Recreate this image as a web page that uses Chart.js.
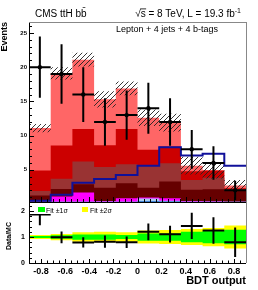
<!DOCTYPE html>
<html>
<head>
<meta charset="utf-8">
<script src="https://cdn.jsdelivr.net/npm/chart.js@4.4.1/dist/chart.umd.min.js"></script>
<style>
  html, body { margin: 0; padding: 0; background: #fff; }
  #wrap { position: relative; width: 258px; height: 290px; }
</style>
</head>
<body>
<div id="wrap"><canvas id="bdt" width="258" height="290"></canvas></div>
<script>
// BDT output binning (10 bins)
const binEdges = [-0.9, -0.72, -0.54, -0.36, -0.18, 0, 0.18, 0.36, 0.54, 0.72, 0.9];

// background components per bin, bottom of the stack first
const ewk       = [0.35, 0.35, 0.35, 0.35, 0.35, 0.45, 0.4, 0.35, 0.35, 0.35];
const ttv       = [0, 0, 0, 0, 0, 0.35, 0.1, 0, 0, 0];
const singleTop = [0, 0.75, 1.35, 0.1, 0.5, 0.15, 0.35, 0.1, 0.05, 0];
const ttbb      = [0.9, 1.1, 1.2, 1.95, 2.2, 1.45, 2.45, 1.65, 1.75, 1.65];
const ttb       = [0.65, 1.5, 3.3, 3.0, 2.75, 3.2, 2.65, 1.4, 1.7, 0.15];
const ttcc      = [3.0, 4.85, 4.75, 3.2, 5.15, 2.35, 2.45, 1.3, 1.05, 0.15];
const ttlf      = [6.2, 10.55, 10.15, 6.7, 5.95, 4.65, 3.5, 0.8, 0.05, 0.4];
const mcUnc     = [0.6, 0.9, 1.0, 1.2, 1.0, 1.2, 1.3, 1.3, 1.2, 0.8];

// ttH signal line, data counts
const signal     = [0.5, 1.35, 3.1, 3.65, 4.25, 5.6, 8.3, 7.1, 7.35, 5.6];
const dataCounts = [20, 19, 16, 12, 13, 14, 12, 8, 6, 2];

// ratio panel
const ratio = [1.87, 0.99, 0.79, 0.82, 0.8, 1.2, 1.11, 1.43, 1.25, 0.8];
const fit1s = [0.04, 0.07, 0.1, 0.1, 0.08, 0.14, 0.14, 0.2, 0.24, 0.28];
const fit2s = [0.08, 0.12, 0.18, 0.2, 0.18, 0.25, 0.27, 0.31, 0.35, 0.44];

// tick labels
const xTicks     = [-0.8, -0.6, -0.4, -0.2, 0, 0.2, 0.4, 0.6, 0.8];
const mainTicks  = [5, 10, 15, 20, 25];
const ratioTicks = [0, 1, 2];

const FONT = '"Liberation Sans", Arial, Helvetica, sans-serif';

// stepped histogram points: one per left bin edge + closing point
function steps(vals) {
    return binEdges.map((e, i) => ({ x: e, y: vals[Math.min(i, vals.length - 1)] }));
}

function hatchPattern() {
    const c = document.createElement('canvas');
    c.width = 5; c.height = 5;
    const g = c.getContext('2d');
    g.strokeStyle = '#222';
    g.lineWidth = 0.9;
    g.beginPath();
    g.moveTo(0, 5); g.lineTo(5, 0);
    g.moveTo(-1, 1); g.lineTo(1, -1);
    g.moveTo(4, 6); g.lineTo(6, 4);
    g.stroke();
    return g.createPattern(c, 'repeat');
}

const components = [
    { label: 'EWK',      vals: ewk,       color: '#3d7fd2' },
    { label: 'tt+V',     vals: ttv,       color: '#a9cdf2' },
    { label: 'single t', vals: singleTop, color: '#ff00ff' },
    { label: 'tt+bb',    vals: ttbb,      color: '#660000' },
    { label: 'tt+b',     vals: ttb,       color: '#993333' },
    { label: 'tt+cc',    vals: ttcc,      color: '#cc0000' },
    { label: 'tt+lf',    vals: ttlf,      color: '#ff6666' }
];

// cumulative stack; the tallest one is drawn first (highest order)
let running = binEdges.slice(1).map(() => 0);
const stackSets = components.map((c, k) => {
    running = running.map((v, i) => v + c.vals[i]);
    return {
        label: c.label,
        data: steps(running),
        yAxisID: 'y',
        stepped: true,
        fill: 'start',
        backgroundColor: c.color,
        borderColor: 'rgba(0,0,0,0)',
        borderWidth: 0,
        pointRadius: 0,
        order: 20 + k
    };
});
const total = running;

const lineBase = { stepped: true, pointRadius: 0, borderColor: 'rgba(0,0,0,0)', borderWidth: 0 };

const datasets = [
    ...stackSets,
    { ...lineBase, label: 'unc hi', yAxisID: 'y', data: steps(total.map((t, i) => t + mcUnc[i])),
      fill: '+1', backgroundColor: hatchPattern(), order: 5 },
    { ...lineBase, label: 'unc lo', yAxisID: 'y', data: steps(total.map((t, i) => t - mcUnc[i])),
      fill: false, order: 5 },
    { label: 'ttH', yAxisID: 'y', data: steps(signal), stepped: true, fill: false,
      borderColor: '#10109a', borderWidth: 2, pointRadius: 0, order: 4 },
    { ...lineBase, label: 'fit 2s hi', yAxisID: 'y2', data: steps(fit2s.map(e => 1 + e)),
      fill: '+1', backgroundColor: '#ffff00', order: 3 },
    { ...lineBase, label: 'fit 2s lo', yAxisID: 'y2', data: steps(fit2s.map(e => 1 - e)),
      fill: false, order: 3 },
    { ...lineBase, label: 'fit 1s hi', yAxisID: 'y2', data: steps(fit1s.map(e => 1 + e)),
      fill: '+1', backgroundColor: '#00ff00', order: 2 },
    { ...lineBase, label: 'fit 1s lo', yAxisID: 'y2', data: steps(fit1s.map(e => 1 - e)),
      fill: false, order: 2 }
];

// data points with poisson errors, ratio points
const errorBars = {
    id: 'errorBars',
    afterDatasetsDraw(chart) {
        const { ctx, scales: { x, y, y2 } } = chart;
        ctx.save();
        ctx.strokeStyle = '#000';
        ctx.fillStyle = '#000';
        ctx.lineWidth = 2;

        ctx.save();
        ctx.beginPath();
        ctx.rect(x.left, y.top, x.right - x.left, y.bottom - y.top);
        ctx.clip();
        dataCounts.forEach((n, i) => {
            const x0 = x.getPixelForValue(binEdges[i]);
            const x1 = x.getPixelForValue(binEdges[i + 1]);
            const xc = (x0 + x1) / 2;
            const err = Math.sqrt(n);
            const py = y.getPixelForValue(n);
            ctx.beginPath();
            ctx.moveTo(x0, py); ctx.lineTo(x1, py);
            ctx.moveTo(xc, y.getPixelForValue(n + err)); ctx.lineTo(xc, y.getPixelForValue(n - err));
            ctx.stroke();
            ctx.beginPath();
            ctx.arc(xc, py, 2.2, 0, Math.PI * 2);
            ctx.fill();
        });
        ctx.restore();

        ctx.save();
        ctx.beginPath();
        ctx.rect(x.left, y2.top, x.right - x.left, y2.bottom - y2.top);
        ctx.clip();
        ratio.forEach((r, i) => {
            const x0 = x.getPixelForValue(binEdges[i]);
            const x1 = x.getPixelForValue(binEdges[i + 1]);
            const xc = (x0 + x1) / 2;
            const err = r / Math.sqrt(dataCounts[i]);
            const py = y2.getPixelForValue(r);
            ctx.beginPath();
            ctx.moveTo(x0, py); ctx.lineTo(x1, py);
            ctx.moveTo(xc, y2.getPixelForValue(r + err)); ctx.lineTo(xc, y2.getPixelForValue(r - err));
            ctx.stroke();
        });
        ctx.restore();
        ctx.restore();
    }
};

// header texts, ratio legend, Data/MC title
const annotations = {
    id: 'annotations',
    afterDatasetsDraw(chart) {
        const { ctx, scales: { x, y2 } } = chart;
        ctx.save();
        // legend box (white, on top of the first ratio point)
        ctx.fillStyle = '#fff';
        ctx.fillRect(x.left + 1, y2.top + 1, 85, 11);
        ctx.fillStyle = '#00ff00';
        ctx.fillRect(38, 207, 7, 5);
        ctx.fillStyle = '#ffff00';
        ctx.fillRect(82, 207, 6, 5);
        ctx.fillStyle = '#000';
        ctx.font = `7px ${FONT}`;
        ctx.textBaseline = 'alphabetic';
        ctx.fillText('Fit \u00b11\u03c3', 46, 213);
        ctx.fillText('Fit \u00b12\u03c3', 90, 213);
        ctx.restore();
    },
    afterDraw(chart) {
        const { ctx } = chart;
        ctx.save();
        ctx.fillStyle = '#000';
        ctx.textBaseline = 'alphabetic';
        ctx.textAlign = 'left';

        ctx.font = `10px ${FONT}`;
        ctx.fillText('CMS ttH bb\u0304', 35, 17);

        const lumi = '\u221As = 8 TeV, L = 19.3 fb';
        const wMain = ctx.measureText(lumi).width;
        const wRoot = ctx.measureText('\u221A').width;
        const wS = ctx.measureText('s').width;
        ctx.font = `7px ${FONT}`;
        const wSup = ctx.measureText('-1').width;
        const x0 = 241 - wSup - wMain;
        ctx.fillText('-1', x0 + wMain, 12.5);
        ctx.font = `10px ${FONT}`;
        ctx.fillText(lumi, x0, 17);
        ctx.fillRect(x0 + wRoot - 0.5, 8.5, wS + 1, 0.8);

        ctx.font = `9px ${FONT}`;
        ctx.fillText('Lepton + 4 jets + 4 b-tags', 116, 31.5);

        ctx.translate(9.5, 236);
        ctx.rotate(-Math.PI / 2);
        ctx.font = `bold 7px ${FONT}`;
        ctx.textAlign = 'center';
        ctx.textBaseline = 'middle';
        ctx.fillText('Data/MC', 0, 0);
        ctx.restore();
    }
};

// ROOT style frame with inner major/minor ticks
const frame = {
    id: 'frame',
    afterDraw(chart) {
        const { ctx, chartArea: a, scales: { x, y, y2 } } = chart;
        const snap = v => Math.round(v) + 0.5;
        ctx.save();
        ctx.strokeStyle = '#000';
        ctx.lineWidth = 1;
        ctx.beginPath();
        for (let v = 1; v <= 26; v++) {
            const py = snap(y.getPixelForValue(v));
            ctx.moveTo(a.left, py); ctx.lineTo(a.left + (v % 5 === 0 ? 5 : 3), py);
        }
        for (let k = 1; k < 12; k++) {
            const py = snap(y2.getPixelForValue(k * 0.2));
            ctx.moveTo(a.left, py); ctx.lineTo(a.left + (k % 5 === 0 ? 5 : 3), py);
        }
        for (let k = -17; k <= 17; k++) {
            const px = snap(x.getPixelForValue(k * 0.05));
            const major = k % 4 === 0;
            ctx.moveTo(px, y.bottom); ctx.lineTo(px, y.bottom - (major ? 5 : 3));
            ctx.moveTo(px, y2.bottom); ctx.lineTo(px, y2.bottom - (major ? 4 : 2.5));
        }
        ctx.stroke();

        ctx.beginPath();
        ctx.moveTo(snap(a.left), a.top); ctx.lineTo(snap(a.left), a.bottom);
        ctx.moveTo(a.left, snap(y.bottom)); ctx.lineTo(a.right, snap(y.bottom));
        ctx.moveTo(a.left, snap(a.bottom)); ctx.lineTo(a.right, snap(a.bottom));
        ctx.stroke();
        ctx.strokeStyle = '#888';
        ctx.beginPath();
        ctx.moveTo(a.left, snap(a.top)); ctx.lineTo(a.right, snap(a.top));
        ctx.moveTo(snap(a.right), a.top); ctx.lineTo(snap(a.right), a.bottom);
        ctx.stroke();
        ctx.restore();
    }
};

new Chart(document.getElementById('bdt'), {
    type: 'line',
    data: { datasets },
    options: {
        responsive: false,
        animation: false,
        devicePixelRatio: 1,
        layout: { padding: { left: 0, right: 12, top: 22, bottom: 0 } },
        plugins: {
            legend: { display: false },
            tooltip: { enabled: false },
            filler: { propagate: false }
        },
        scales: {
            x: {
                type: 'linear',
                min: -0.9,
                max: 0.9,
                afterBuildTicks: s => { s.ticks = xTicks.map(v => ({ value: v })); },
                afterFit: s => { s.height = 27; },
                grid: { display: false, drawTicks: false },
                border: { display: false },
                ticks: {
                    autoSkip: false, maxRotation: 0, color: '#000', padding: 3,
                    font: { family: FONT, size: 9, weight: 'bold' },
                    callback: v => String(Math.round(v * 10) / 10)
                },
                title: {
                    display: true, text: 'BDT output', align: 'end', color: '#000',
                    font: { family: FONT, size: 11, weight: 'bold' },
                    padding: { top: 0, bottom: 2 }
                }
            },
            y: {
                type: 'linear',
                position: 'left',
                stack: 'panels',
                stackWeight: 180,
                weight: 1,
                min: 0.3,
                max: 26.6,
                afterBuildTicks: s => { s.ticks = mainTicks.map(v => ({ value: v })); },
                afterFit: s => { s.width = 29; },
                grid: { display: false, drawTicks: false },
                border: { display: false },
                ticks: { autoSkip: false, color: '#000', padding: 2, font: { family: FONT, size: 6, weight: 'bold' } },
                title: {
                    display: true, text: 'Events', align: 'end', color: '#000',
                    font: { family: FONT, size: 9, weight: 'bold', lineHeight: 1 },
                    padding: { top: 0.5, bottom: 0 }
                }
            },
            y2: {
                type: 'linear',
                position: 'left',
                stack: 'panels',
                stackWeight: 61,
                weight: 0,
                min: 0,
                max: 2.35,
                afterBuildTicks: s => { s.ticks = ratioTicks.map(v => ({ value: v })); },
                afterFit: s => { s.width = 29; },
                grid: { display: false, drawTicks: false },
                border: { display: false },
                ticks: { autoSkip: false, color: '#000', padding: 4, font: { family: FONT, size: 7, weight: 'bold' } }
            }
        }
    },
    plugins: [errorBars, annotations, frame]
});
</script>
</body>
</html>
